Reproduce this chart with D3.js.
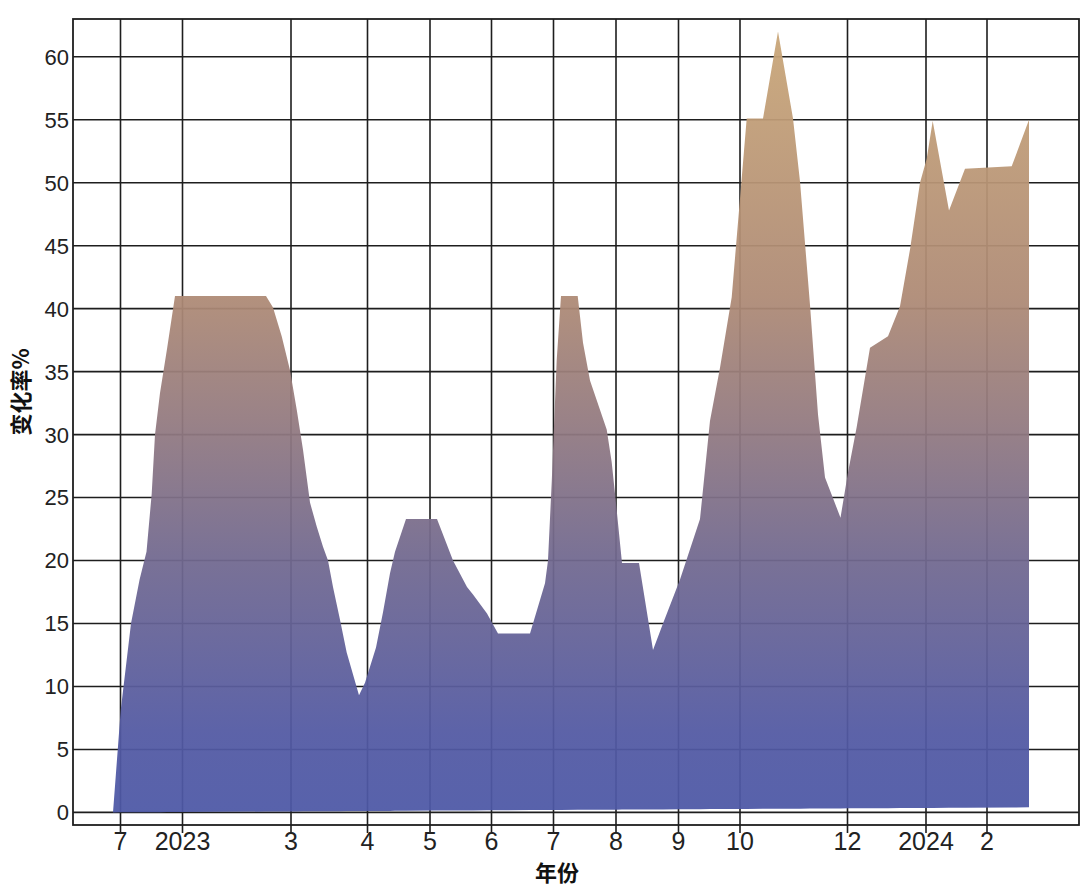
<!DOCTYPE html>
<html><head><meta charset="utf-8">
<script src="https://cdn.jsdelivr.net/npm/d3@7"></script>
<style>html,body{margin:0;padding:0;background:#fff;}svg{display:block;}</style>
</head><body>
<script>
// x positions on a continuous "time position" axis; values = change rate %
const xPositions = [4.0,4.77,5.8,6.66,7.35,7.87,8.2,8.7,9.4,10.2,19.3,20.0,20.87,21.7,22.37,23.0,23.7,24.37,25.0,25.5,26.0,26.7,27.37,28.6,29.2,30.3,31.0,31.7,32.2,33.3,36.4,38.0,39.4,40.0,41.4,42.5,45.7,47.2,47.5,47.87,48.37,48.8,50.47,51.0,51.7,53.37,53.87,54.37,54.9,56.6,58.0,59.0,60.7,62.7,63.7,64.7,65.87,66.6,67.37,69.0,70.5,72.0,72.7,73.7,74.5,75.2,76.75,77.5,78.37,79.7,81.5,82.7,83.7,84.7,85.37,85.97,87.6,89.2,93.87,95.6];
const values = [0,8.1,15.0,18.5,20.7,25.3,30.0,33.3,36.8,41.0,41.0,40.1,37.8,35.1,32.0,28.8,24.6,22.7,21.1,20.0,17.9,15.3,12.7,9.3,10.3,13.1,15.9,19.0,20.7,23.3,23.3,20.0,17.9,17.3,15.8,14.2,14.2,18.2,20.0,26.2,35.9,41.0,41.0,37.3,34.3,30.4,27.8,24.0,19.8,19.8,12.9,15.0,18.5,23.3,31.1,35.3,40.9,47.8,55.1,55.1,62.0,55.1,50.1,40.3,31.6,26.6,23.4,27.0,30.6,36.9,37.8,40.2,44.7,50.0,51.9,54.9,47.8,51.1,51.3,55.0];
const baseline = [0, 0.4]; // area floor at first and last point
const tickPositions = [4.75,10.95,21.8,29.45,35.7,41.85,48.05,54.3,60.55,66.7,77.45,85.3,91.4];
const tickLabels = ["7","2023","3","4","5","6","7","8","9","10","12","2024","2"];
const yTicks = [0,5,10,15,20,25,30,35,40,45,50,55,60];
const xTitle = "年份";
const yTitle = "变化率%";

const W = 1080, H = 888;
const M = {left:73, right:1, top:19, bottom:63};
const svg = d3.select("body").append("svg").attr("width",W).attr("height",H);

const x = d3.scaleLinear().domain([0,100.6]).range([M.left, W-M.right]);
const y = d3.scaleLinear().domain([-1,63]).range([H-M.bottom, M.top]);

const data = xPositions.map((p,i)=>({p, v: values[i]}));
const xFirst = xPositions[0], xLast = xPositions[xPositions.length-1];
const base = d3.scaleLinear().domain([xFirst,xLast]).range(baseline);

const defs = svg.append("defs");
const grad = defs.append("linearGradient").attr("id","g")
  .attr("gradientUnits","userSpaceOnUse")
  .attr("x1",0).attr("x2",0).attr("y1",y(0)).attr("y2",y(62));
[["0","#4d58a6"],["0.1","#5259a3"],["0.33","#72698f"],["0.5","#937a80"],["0.66","#ae8a75"],["1","#c9a678"]]
  .forEach(([o,c])=>grad.append("stop").attr("offset",o).attr("stop-color",c));

// grid
const grid = svg.append("g").attr("stroke","#1e1e1e").attr("stroke-width",1.6);
grid.selectAll("line.h").data(yTicks).join("line")
  .attr("x1",M.left).attr("x2",W-M.right)
  .attr("y1",d=>y(d)).attr("y2",d=>y(d));
grid.selectAll("line.v").data(tickPositions).join("line")
  .attr("x1",d=>x(d)).attr("x2",d=>x(d))
  .attr("y1",M.top).attr("y2",H-M.bottom+8);

// area
const area = d3.area().x(d=>x(d.p)).y0(d=>y(base(d.p))).y1(d=>y(d.v)).curve(d3.curveLinear);
svg.append("path").datum(data).attr("d",area).attr("fill","url(#g)").attr("fill-opacity",0.94);

// frame
svg.append("rect").attr("x",M.left).attr("y",M.top)
  .attr("width",W-M.right-M.left).attr("height",H-M.bottom-M.top)
  .attr("fill","none").attr("stroke","#1e1e1e").attr("stroke-width",1.8);

// y labels
svg.append("g").selectAll("text").data(yTicks).join("text")
  .attr("x",M.left-4).attr("y",d=>y(d)).attr("dy","0.36em")
  .attr("text-anchor","end").attr("font-family","Liberation Sans, Arial, sans-serif")
  .attr("font-size",22).attr("fill","#222").text(d=>d);

// x labels
svg.append("g").selectAll("text").data(tickPositions).join("text")
  .attr("x",d=>x(d)).attr("y",H-M.bottom+25)
  .attr("text-anchor","middle").attr("font-family","Liberation Sans, Arial, sans-serif")
  .attr("font-size",25).attr("fill","#222").text((d,i)=>tickLabels[i]);

// titles
svg.append("text").attr("x",557).attr("y",881).attr("text-anchor","middle")
  .attr("font-family","Noto Sans CJK SC, sans-serif").attr("font-weight","bold")
  .attr("font-size",22).attr("fill","#111").text(xTitle);
svg.append("text").attr("transform","translate(29,392) rotate(-90)").attr("text-anchor","middle")
  .attr("font-family","Noto Sans CJK SC, sans-serif").attr("font-weight","bold")
  .attr("font-size",22).attr("fill","#111").text(yTitle);
</script>
</body></html>
